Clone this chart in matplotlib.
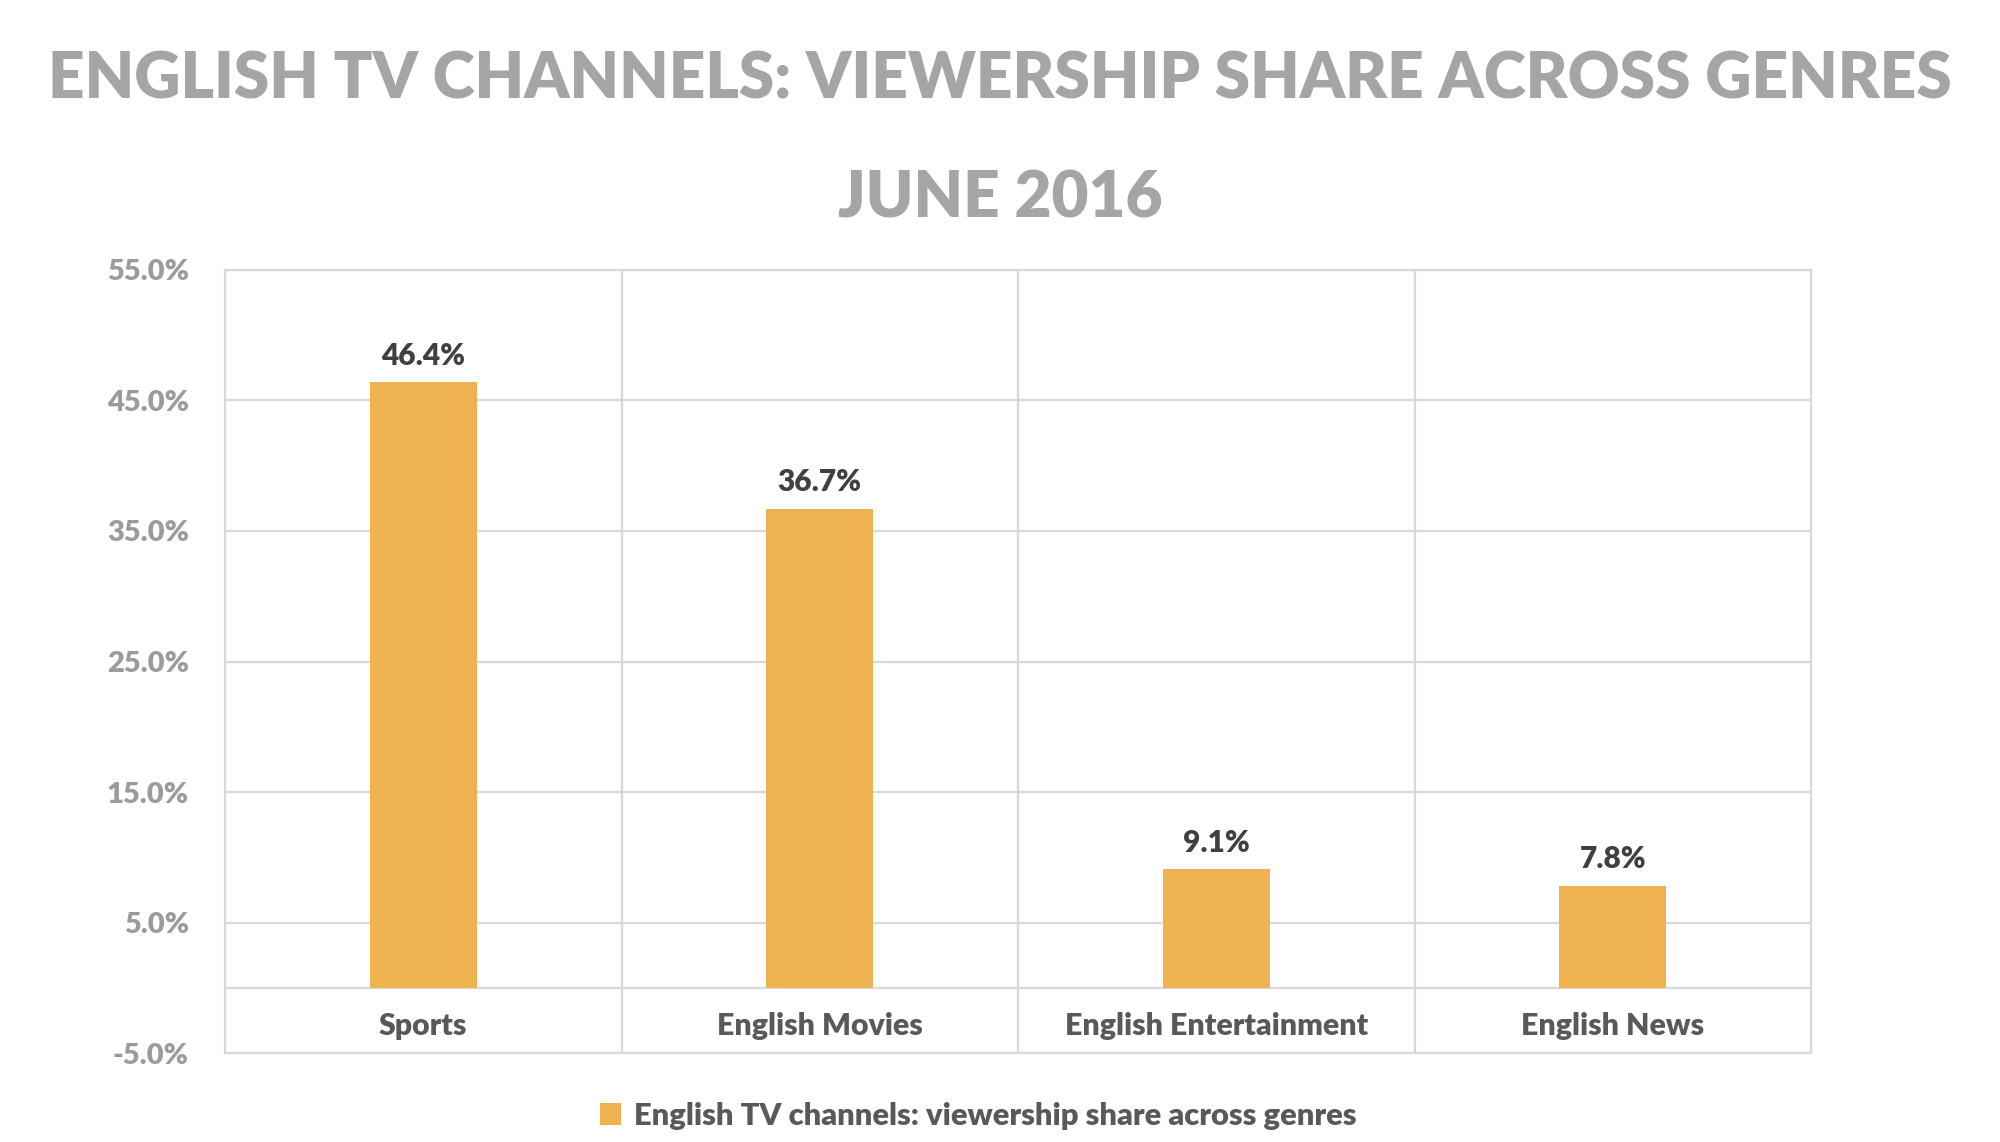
import matplotlib
matplotlib.use("Agg")
from matplotlib import pyplot as plt
from matplotlib.patches import Patch

categories = ["Sports", "English Movies", "English Entertainment", "English News"]
shares = [46.4, 36.7, 9.1, 7.8]
yticks = [-5, 5, 15, 25, 35, 45, 55]
series_name = "English TV channels: viewership share across genres"
title_lines = ["ENGLISH TV CHANNELS: VIEWERSHIP SHARE ACROSS GENRES", "JUNE 2016"]

barColor = "#EEB251"
gridColor = "#D9D9D9"
W = 'heavy'

plt.rcParams['font.family'] = ['Lato', 'DejaVu Sans']

fig = plt.figure(figsize=(20, 11.42), dpi=100)
ax = fig.add_axes([0.1125, 0.0779, 0.793, 0.6857])

x = range(len(categories))
bars = ax.bar(x, shares, width=0.27, color=barColor, zorder=3)
ax.bar_label(bars, labels=["%.1f%%" % v for v in shares], padding=9,
             fontsize=21.5, fontweight=W, color="#404040")

ax.set_xlim(-0.5, len(categories) - 0.5)
ax.set_ylim(yticks[0], yticks[-1])
ax.set_yticks(yticks)
ax.set_yticklabels(["%.1f%%" % t for t in yticks])
ax.tick_params(axis='y', length=0, pad=26, labelsize=21, labelcolor="#9B9B9B")
for lab in ax.get_yticklabels():
    lab.set_fontweight(W)

ax.set_xticks([i + 0.5 for i in range(len(categories) - 1)])
ax.set_xticklabels([])
ax.tick_params(axis='x', length=0)
ax.grid(True, axis='both', color=gridColor, linewidth=1.6, zorder=0)
ax.axhline(0, color=gridColor, linewidth=1.6, zorder=1)
for s in ax.spines.values():
    s.set_color(gridColor)
    s.set_linewidth(1.6)

# category labels sit between the 0 line and the bottom of the axis
for i, c in enumerate(categories):
    ax.text(i, yticks[0] / 2 - 0.4, c, ha='center', va='center', fontsize=21.8,
            fontweight=W, color="#595959")

fig.text(0.5, 1 - 80 / 1142, title_lines[0], ha='center', va='center',
         fontsize=46, fontweight=W, color="#A5A5A5")
fig.text(0.5, 1 - 199 / 1142, title_lines[1], ha='center', va='center',
         fontsize=46, fontweight=W, color="#A5A5A5")

handle = Patch(facecolor=barColor, edgecolor='none')
leg = fig.legend([handle], [series_name], loc='center', bbox_to_anchor=(0.489, 1 - 1116 / 1142),
                 frameon=False, handlelength=0.7, handleheight=0.7, handletextpad=0.4,
                 prop={'size': 22.2, 'weight': W})
for t in leg.get_texts():
    t.set_color("#595959")

fig.savefig("out.png", dpi=100)
